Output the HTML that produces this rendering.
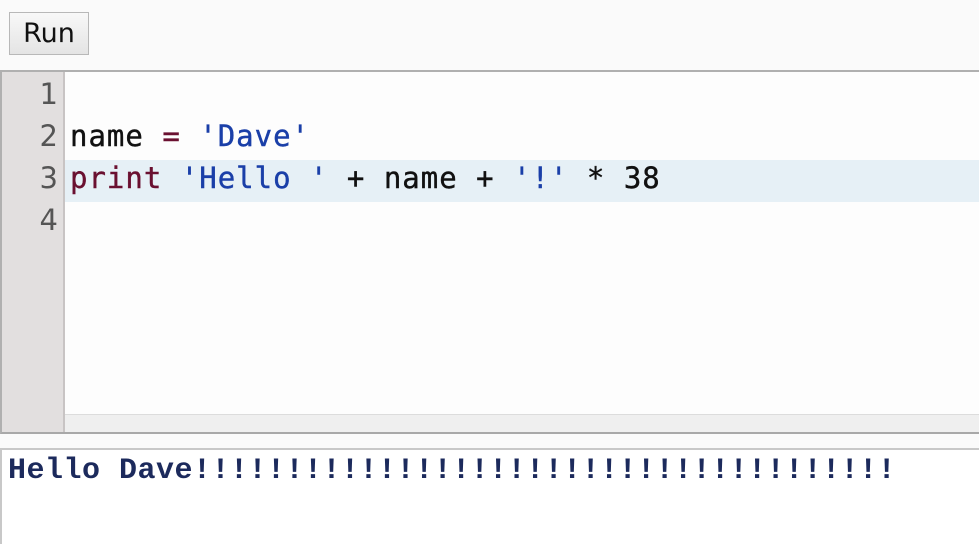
<!DOCTYPE html>
<html><head><style>
body{margin:0;width:979px;height:544px;background:#fafafa;position:relative;overflow:hidden;font-family:"DejaVu Sans Mono",monospace}
.run{position:absolute;left:9px;top:12px;width:80px;height:43px;box-sizing:border-box;border:1px solid #b8b8b8;background:linear-gradient(#f8f8f8,#e4e4e4);font-family:"DejaVu Sans",sans-serif;font-size:27px;line-height:41px;text-align:center;color:#111}
.ed{position:absolute;left:0;top:70px;width:979px;height:364px;box-sizing:border-box;border-top:2px solid #b0b0b0;border-left:2px solid #b0b0b0;border-bottom:2px solid #a8a8a8;background:#fdfdfd}
.gut{position:absolute;left:0;top:0;width:61px;height:100%;background:#e2dfdf;border-right:2px solid #c8c4c4}
.hl{position:absolute;left:63px;top:88px;right:0;height:42px;background:#e6f0f6}
.sb{position:absolute;left:63px;right:0;bottom:0;height:17px;background:#efefef;border-top:1px solid #dcdcdc}
.ln{position:absolute;left:0;width:56px;text-align:right;font-size:29px;color:#555;line-height:42px;font-family:"DejaVu Sans",sans-serif}
.code{position:absolute;left:68px;font-size:29px;line-height:42px;color:#111;white-space:pre;letter-spacing:1px;-webkit-text-stroke:0.4px currentColor}
.k{color:#6a1030}.s{color:#1a3fa8}
.out{position:absolute;left:0;top:448px;width:979px;height:96px;border-top:2px solid #c8c8c8;border-left:2px solid #c8c8c8;background:#fff;box-sizing:border-box}
.ot{position:absolute;left:6px;top:4px;font-family:"Liberation Mono",monospace;font-weight:bold;font-size:30px;letter-spacing:0.5px;color:#1c2a5c;white-space:pre}
</style></head><body>
<div class="run">Run</div>
<div class="ed">
 <div class="gut"></div>
 <div class="hl"></div>
 <div class="sb"></div>
 <div class="ln" style="top:1px">1</div>
 <div class="ln" style="top:43px">2</div>
 <div class="ln" style="top:85px">3</div>
 <div class="ln" style="top:127px">4</div>
 <div class="code" style="top:43px">name <span class="k">=</span> <span class="s">'Dave'</span></div>
 <div class="code" style="top:85px"><span class="k">print</span> <span class="s">'Hello '</span> + name + <span class="s">'!'</span> * 38</div>
</div>
<div class="out"><div class="ot">Hello Dave!!!!!!!!!!!!!!!!!!!!!!!!!!!!!!!!!!!!!!</div></div>
</body></html>
